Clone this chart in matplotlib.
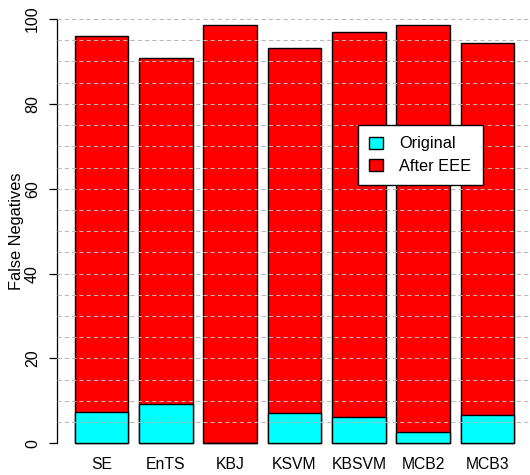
import numpy as np
import matplotlib
matplotlib.use("Agg")
import matplotlib.pyplot as plt
from matplotlib.patches import Patch

methods = ["SE", "EnTS", "KBJ", "KSVM", "KBSVM", "MCB2", "MCB3"]
original = [7.3, 9.3, 0.0, 7.1, 6.3, 2.7, 6.7]
after_eee = [95.9, 90.8, 98.7, 93.1, 96.9, 98.5, 94.3]
y_ticks = [0, 20, 40, 60, 80, 100]
grid_levels = list(range(5, 101, 5))

plt.rcParams["font.family"] = ["Liberation Sans", "DejaVu Sans"]

W, H = 530, 475
fig = plt.figure(figsize=(W / 100, H / 100), dpi=100)
ax = fig.add_axes([57.1 / W, (H - 460.3) / H, (531.8 - 57.1) / W, (460.3 - 2.1) / H])

x = 0.7 + 1.2 * np.arange(len(methods))
ax.bar(x, after_eee, width=1.0, color="#ff0000", edgecolor="black", linewidth=1.0, zorder=2)
ax.bar(x, original, width=1.0, color="#00ffff", edgecolor="black", linewidth=1.0, zorder=3)

for lv in grid_levels:
    ax.axhline(lv, color="#b8b8b8", linewidth=0.75, linestyle=(0, (4, 3)), zorder=4)

ax.set_xlim(-0.128, 8.728)
ax.set_ylim(-4, 104)

for s in ["top", "right", "bottom"]:
    ax.spines[s].set_visible(False)
ax.spines["left"].set_bounds(0, 100)
ax.spines["left"].set_linewidth(0.9)

ax.set_yticks(y_ticks)
ax.set_yticklabels([str(v) for v in y_ticks], rotation=90, va="center", ha="center")
ax.tick_params(axis="y", length=5.76, width=0.9, pad=12.0, labelsize=11.5)

ax.set_xticks(x)
ax.set_xticklabels(methods)
ax.tick_params(axis="x", length=0, pad=-2.2, labelsize=11.3)

ax.set_ylabel("False Negatives", fontsize=11.8)
ax.yaxis.label.set_va("center")
ax.yaxis.set_label_coords((16.5 - 57.1) / (531.8 - 57.1), 0.5)

handles = [Patch(facecolor="#00ffff", edgecolor="black", linewidth=1.0),
           Patch(facecolor="#ff0000", edgecolor="black", linewidth=1.0)]
leg = ax.legend(handles, ["Original", "After EEE"], loc="upper left",
                bbox_to_anchor=(358 / W, 1 - 125 / H), bbox_transform=fig.transFigure,
                borderaxespad=0, fancybox=False, framealpha=1, edgecolor="black",
                fontsize=11.8, handlelength=0.8, handleheight=0.75, handletextpad=1.0,
                borderpad=0.7, labelspacing=0.45)
leg.get_frame().set_linewidth(1.0)
leg.set_zorder(10)

fig.savefig("out.png", dpi=100)
